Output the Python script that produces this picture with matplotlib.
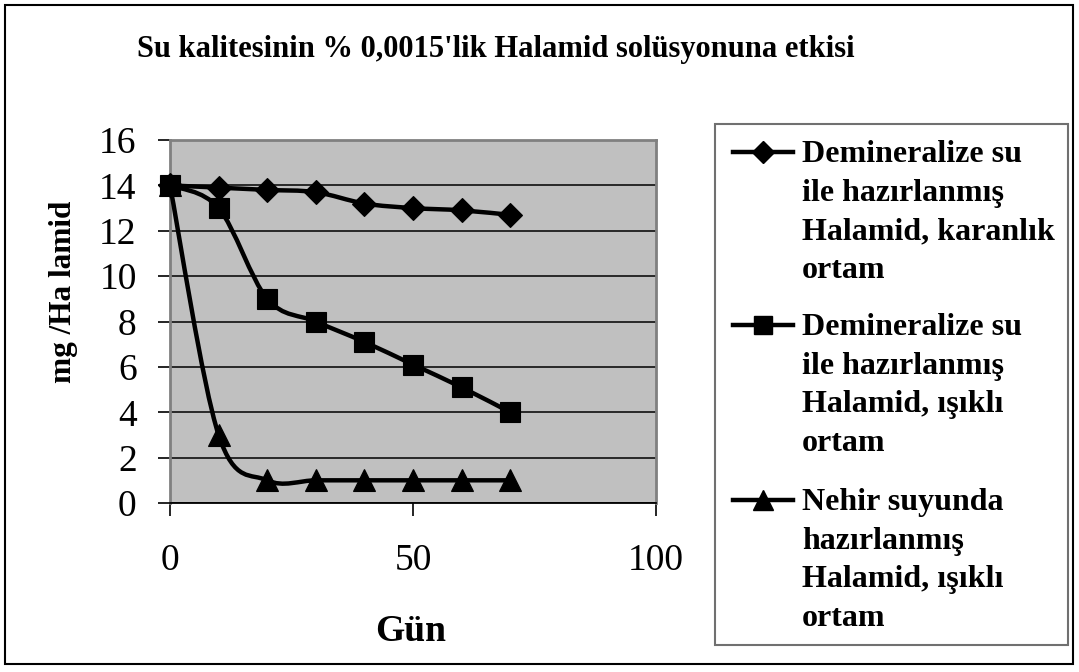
import numpy as np
import matplotlib.pyplot as plt
from matplotlib.path import Path
from matplotlib.patches import PathPatch, Rectangle
from matplotlib.lines import Line2D

plt.rcParams['font.family'] = ['Liberation Serif', 'DejaVu Serif']

# data
days = [0, 10, 20, 30, 40, 50, 60, 70]
dark_demin = [14, 13.9, 13.8, 13.7, 13.2, 13.0, 12.9, 12.7]
light_demin = [14, 13, 9, 8, 7.1, 6.1, 5.1, 4]
light_river = [14, 3, 1, 1, 1, 1, 1, 1]

series_labels = [
    ["Demineralize su", "ile hazırlanmış", "Halamid, karanlık", "ortam"],
    ["Demineralize su", "ile hazırlanmış", "Halamid, ışıklı", "ortam"],
    ["Nehir suyunda", "hazırlanmış", "Halamid, ışıklı", "ortam"],
]
markers = ['D', 's', '^']
marker_sizes = [12, 15, 16]

title = "Su kalitesinin % 0,0015'lik Halamid solüsyonuna etkisi"
x_title = "Gün"
y_title = "mg /Ha lamid"

W, H = 1079, 672


def fx(px):
    return px / W


def fy(py):
    return 1 - py / H


def smooth_path(x, y):
    # Excel style smoothed line: bezier segments with catmull-rom control points
    pts = np.column_stack([x, y]).astype(float)
    ext = np.vstack([pts[0], pts, pts[-1]])
    verts = [pts[0]]
    codes = [Path.MOVETO]
    for i in range(len(pts) - 1):
        p0, p1, p2, p3 = ext[i], ext[i + 1], ext[i + 2], ext[i + 3]
        verts += [p1 + (p2 - p0) / 6, p2 - (p3 - p1) / 6, p2]
        codes += [Path.CURVE4] * 3
    return Path(verts, codes)


fig = plt.figure(figsize=(W / 100, H / 100), dpi=100)
ax = fig.add_axes([fx(170), fy(503), fx(656) - fx(170), fy(140) - fy(503)])
ax.set_facecolor('#C0C0C0')

all_series = [dark_demin, light_demin, light_river]
zorders = [4, 6, 3]
for vals, m, ms, z in zip(all_series, markers, marker_sizes, zorders):
    ax.add_patch(PathPatch(smooth_path(days, vals), fill=False, lw=3.2,
                           edgecolor='black', zorder=z))
    ax.plot(days, vals, ls='none', marker=m, ms=ms, color='black',
            markeredgewidth=0.8, zorder=z + 0.5, clip_on=False)

ax.set_xlim(0, 100)
ax.set_ylim(0, 16)
ax.set_xticks([0, 50, 100])
ax.set_yticks(np.arange(0, 17, 2))
ax.yaxis.grid(True, color='black', lw=1.1)
ax.set_axisbelow(True)
ax.tick_params(direction='out', length=9, width=1.2, labelsize=27, color='black')
ax.tick_params(axis='x', pad=20)
ax.tick_params(axis='y', pad=15)
for side in ['left', 'top', 'right']:
    ax.spines[side].set_color('#808080')
    ax.spines[side].set_linewidth(2)
ax.spines['bottom'].set_color('black')
ax.spines['bottom'].set_linewidth(1.3)

fig.text(fx(496), fy(57), title, ha='center', va='baseline',
         fontsize=22, fontweight='bold')
fig.text(fx(411), fy(641), x_title, ha='center', va='baseline',
         fontsize=27, fontweight='bold')
fig.text(fx(63), fy(292), y_title, ha='center', va='center', rotation=90,
         fontsize=22.5, fontweight='bold')

# legend drawn by hand so that the marker sits on the first text line
fig.add_artist(Rectangle((fx(715), fy(645)), fx(1068) - fx(715), fy(124) - fy(645),
                         transform=fig.transFigure, fill=False,
                         edgecolor='#707070', lw=1.5))
first_baselines = [162, 335, 510]
line_step = 38.7
for lines, m, ms, base in zip(series_labels, markers, marker_sizes, first_baselines):
    hy = base - 10
    fig.add_artist(Line2D([fx(733), fx(793)], [fy(hy), fy(hy)], color='black',
                          lw=3.2, transform=fig.transFigure))
    fig.add_artist(Line2D([fx(763)], [fy(hy)], marker=m, ms=ms * 0.9,
                          color='black', transform=fig.transFigure))
    for k, txt in enumerate(lines):
        fig.text(fx(802), fy(base + k * line_step), txt, ha='left',
                 va='baseline', fontsize=23, fontweight='bold')

# chart border
fig.add_artist(Rectangle((fx(5), fy(664)), fx(1073) - fx(5), fy(5) - fy(664),
                         transform=fig.transFigure, fill=False,
                         edgecolor='black', lw=1.5))

fig.savefig('out.png', dpi=100)
